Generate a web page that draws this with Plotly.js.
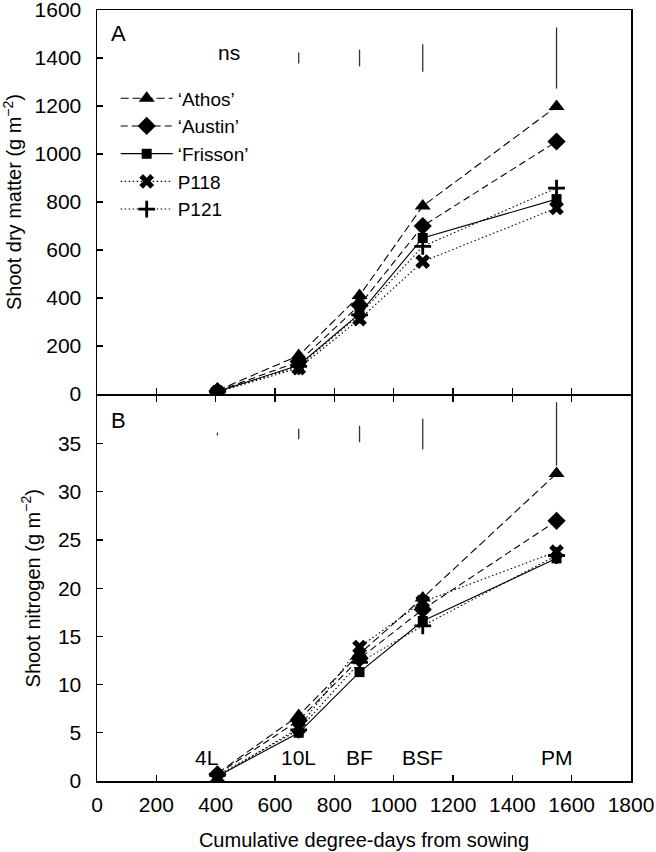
<!DOCTYPE html>
<html>
<head>
<meta charset="utf-8">
<script src="https://cdn.plot.ly/plotly-3.0.1.min.js"></script>
<style>html,body{margin:0;padding:0;background:#fff;}#chart{width:656px;height:852px;}</style>
</head>
<body>
<div id="chart"></div>
<script>
// Growth stages (cumulative degree-days from sowing)
const stages = ['4L', '10L', 'BF', 'BSF', 'PM'];
const stageX = [406, 680, 885, 1098, 1549];

const cultivars = ['\u2018Athos\u2019', '\u2018Austin\u2019', '\u2018Frisson\u2019', 'P118', 'P121'];

// Panel A: shoot dry matter (g m-2)
const dmAthos   = [15, 160, 410, 783, 1198];
const dmAustin  = [12, 135, 370, 700, 1052];
const dmFrisson = [10, 120, 335, 650, 812];
const dmP118    = [8, 108, 312, 552, 775];
const dmP121    = [10, 115, 330, 615, 858];

// Panel B: shoot nitrogen (g m-2)
const nAthos   = [0.8, 6.8, 13.2, 19.0, 31.9];
const nAustin  = [0.7, 6.3, 12.7, 17.8, 27.0];
const nFrisson = [0.5, 5.0, 11.3, 16.6, 23.1];
const nP118    = [0.4, 5.5, 13.9, 18.6, 23.8];
const nP121    = [0.6, 5.3, 12.3, 16.1, 23.4];

// LSD bars (full length), drawn centred at a fixed level near the top of each panel
const lsdStagesA = ['10L', 'BF', 'BSF', 'PM'];
const lsdA = [45, 70, 115, 255];
const lsdCenterA = 1400;
const lsdB = [0.3, 1.1, 1.7, 3.2, 6.6];
const lsdCenterB = 36;

const yTicksA = [0, 200, 400, 600, 800, 1000, 1200, 1400, 1600];
const yTicksB = [0, 5, 10, 15, 20, 25, 30, 35];
const xTicks = [0, 200, 400, 600, 800, 1000, 1200, 1400, 1600, 1800];

const styles = [
  {dash: '8px,4px', symbol: 'triangle-up', size: 14},
  {dash: '7px,4px', symbol: 'diamond', size: 14},
  {dash: 'solid', symbol: 'square', size: 10},
  {dash: '1.5px,2.5px', symbol: 'x', size: 13},
  {dash: '1.5px,2.5px', symbol: 'cross-thin', size: 12}
];

const dmSeries = [dmAthos, dmAustin, dmFrisson, dmP118, dmP121];
const nSeries = [nAthos, nAustin, nFrisson, nP118, nP121];

const traces = [];
cultivars.forEach((name, i) => {
  const st = styles[i];
  const marker = {symbol: st.symbol, size: st.size, color: '#000',
    line: {color: '#000', width: st.symbol === 'cross-thin' ? 2.8 : 0}};
  traces.push({
    x: stageX, y: dmSeries[i], xaxis: 'x2', yaxis: 'y2', name: name,
    type: 'scatter', mode: 'lines+markers', legendgroup: name,
    line: {color: '#000', width: 1.1, dash: st.dash}, marker: marker
  });
  traces.push({
    x: stageX, y: nSeries[i], xaxis: 'x', yaxis: 'y', name: name,
    type: 'scatter', mode: 'lines+markers', legendgroup: name, showlegend: false,
    line: {color: '#000', width: 1.1, dash: st.dash}, marker: marker
  });
});

// LSD bars
traces.push({
  x: lsdStagesA.map(s => stageX[stages.indexOf(s)]),
  y: lsdA.map(() => lsdCenterA),
  xaxis: 'x2', yaxis: 'y2', type: 'scatter', mode: 'markers', showlegend: false, hoverinfo: 'skip',
  marker: {size: 2, opacity: 0, color: '#000'},
  error_y: {type: 'data', array: lsdA.map(v => v / 2), visible: true, width: 0, thickness: 1.3, color: '#333'}
});
traces.push({
  x: stageX, y: lsdB.map(() => lsdCenterB),
  xaxis: 'x', yaxis: 'y', type: 'scatter', mode: 'markers', showlegend: false, hoverinfo: 'skip',
  marker: {size: 2, opacity: 0, color: '#000'},
  error_y: {type: 'data', array: lsdB.map(v => v / 2), visible: true, width: 0, thickness: 1.3, color: '#333'}
});

const font = {family: 'Liberation Sans, Arial, sans-serif', color: '#000'};
const f = s => Object.assign({}, font, {size: s});
const tickFont = f(21);

const annotations = [
  {text: 'A', xref: 'paper', yref: 'paper', x: 0.04, y: 0.970, xanchor: 'center', yanchor: 'middle', showarrow: false, font: f(22)},
  {text: 'B', xref: 'paper', yref: 'paper', x: 0.04, y: 0.467, xanchor: 'center', yanchor: 'middle', showarrow: false, font: f(22)},
  {text: 'ns', xref: 'x2', yref: 'y2', x: stageX[0], y: lsdCenterA, xshift: 12, yshift: 6, xanchor: 'center', yanchor: 'middle', showarrow: false, font: f(21)}
];
stages.forEach((s, i) => {
  annotations.push({text: s, xref: 'x', yref: 'y', x: stageX[i], y: 2.45, xshift: i === 0 ? -11 : 0,
    xanchor: 'center', yanchor: 'middle', showarrow: false, font: f(21)});
});

const gap = 1.5 / 771;

const layout = {
  width: 656, height: 852,
  margin: {l: 97, r: 25, t: 10, b: 71},
  paper_bgcolor: '#fff', plot_bgcolor: '#fff',
  font: font,
  showlegend: true,
  legend: {x: 0.035, y: 0.91, xanchor: 'left', yanchor: 'top', bgcolor: 'rgba(0,0,0,0)',
    font: f(19), tracegroupgap: 0, itemwidth: 52},
  xaxis: {
    domain: [0, 1], anchor: 'y', range: [0, 1800], tickvals: xTicks,
    showline: true, linecolor: '#000', linewidth: 1.5, mirror: 'ticks',
    ticks: 'inside', ticklen: 6, tickwidth: 1.2, tickcolor: '#000',
    showgrid: false, zeroline: false, tickfont: tickFont, ticklabelstandoff: 4,
    title: {text: 'Cumulative degree-days from sowing', font: f(20), standoff: 18}
  },
  yaxis: {
    domain: [0, 0.5], anchor: 'x', range: [0, 40], tickvals: yTicksB,
    showline: true, linecolor: '#000', linewidth: 1.5, mirror: true,
    ticks: 'inside', ticklen: 6, tickwidth: 1.2, tickcolor: '#000',
    showgrid: false, zeroline: false, tickfont: tickFont, ticklabelstandoff: 10,
    title: {text: 'Shoot nitrogen (g m<sup>\u22122</sup>)', font: f(20), standoff: 12}
  },
  xaxis2: {
    domain: [0, 1], anchor: 'y2', matches: 'x', range: [0, 1800], tickvals: xTicks,
    showline: true, linecolor: '#000', linewidth: 1.5, mirror: true,
    ticks: 'inside', ticklen: 6, tickwidth: 1.2, tickcolor: '#000',
    showticklabels: false, showgrid: false, zeroline: false
  },
  yaxis2: {
    domain: [0.5 + gap, 1], anchor: 'x2', range: [0, 1600], tickvals: yTicksA,
    showline: true, linecolor: '#000', linewidth: 1.5, mirror: true,
    ticks: 'inside', ticklen: 6, tickwidth: 1.2, tickcolor: '#000',
    showgrid: false, zeroline: false, tickfont: tickFont, ticklabelstandoff: 10,
    ticklabeloverflow: 'allow',
    title: {text: 'Shoot dry matter (g m<sup>\u22122</sup>)', font: f(20), standoff: 12}
  },
  annotations: annotations
};

Plotly.newPlot('chart', traces, layout, {staticPlot: true, displayModeBar: false});
</script>
</body>
</html>
